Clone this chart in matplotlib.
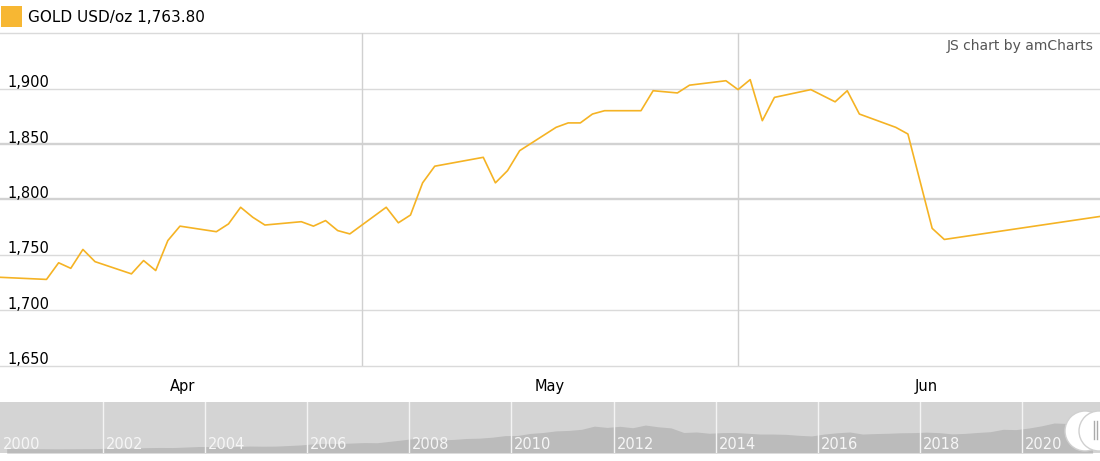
import matplotlib
matplotlib.use("Agg")
import matplotlib.pyplot as plt
import pandas as pd
from matplotlib import transforms
from matplotlib.patches import Rectangle, Ellipse

# daily gold price, USD/oz (2021)
gold_dates = ["2021-04-01", "2021-04-05", "2021-04-06", "2021-04-07", "2021-04-08", "2021-04-09",
              "2021-04-12", "2021-04-13", "2021-04-14", "2021-04-15", "2021-04-16",
              "2021-04-19", "2021-04-20", "2021-04-21", "2021-04-22", "2021-04-23",
              "2021-04-26", "2021-04-27", "2021-04-28", "2021-04-29", "2021-04-30",
              "2021-05-03", "2021-05-04", "2021-05-05", "2021-05-06", "2021-05-07",
              "2021-05-11", "2021-05-12", "2021-05-13", "2021-05-14",
              "2021-05-17", "2021-05-18", "2021-05-19", "2021-05-20", "2021-05-21",
              "2021-05-24", "2021-05-25", "2021-05-27", "2021-05-28", "2021-05-31",
              "2021-06-01", "2021-06-02", "2021-06-03", "2021-06-04",
              "2021-06-07", "2021-06-09", "2021-06-10", "2021-06-11",
              "2021-06-14", "2021-06-15", "2021-06-17", "2021-06-18", "2021-07-01"]
gold_values = [1730, 1728, 1743, 1738, 1755, 1744,
               1733, 1745, 1736, 1763, 1776,
               1771, 1778, 1793, 1784, 1777,
               1780, 1776, 1781, 1772, 1769,
               1793, 1779, 1786, 1815, 1830,
               1838, 1815, 1826, 1844,
               1865, 1869, 1869, 1877, 1880,
               1880, 1898, 1896, 1903, 1907,
               1899, 1908, 1871, 1892,
               1899, 1888, 1898, 1877,
               1865, 1859, 1774, 1764, 1785]

y_ticks = [1650, 1700, 1750, 1800, 1850, 1900]
month_labels = ["Apr", "May", "Jun"]
month_pos = ["2021-04-16 05:00", "2021-05-16 12:00", "2021-06-16 12:00"]
month_lines = ["2021-05-01", "2021-06-01"]

# scrollbar: long-term gold price, quarterly averages
hist_years = list(range(2000, 2022))
hist_prices = [
    [290, 280, 275, 272], [265, 270, 275, 278], [300, 315, 315, 340], [350, 345, 375, 410],
    [410, 395, 410, 440], [430, 435, 470, 510], [580, 610, 600, 630], [660, 650, 740, 830],
    [930, 890, 830, 860], [920, 940, 1000, 1100], [1110, 1240, 1300, 1400], [1430, 1500, 1700, 1620],
    [1690, 1600, 1770, 1660], [1590, 1300, 1330, 1250], [1290, 1300, 1250, 1200], [1200, 1180, 1120, 1080],
    [1200, 1280, 1330, 1200], [1230, 1250, 1280, 1290], [1320, 1290, 1210, 1240], [1300, 1350, 1500, 1480],
    [1580, 1720, 1900, 1870], [1780, 1800],
]
scroll_years = list(range(2000, 2021, 2))

W, H = 1100, 461
LINE = "#f5b324"


def fx(px):
    return px / W


def fy(py):
    return 1 - py / H


fig = plt.figure(figsize=(11, 4.61), dpi=100)

# main chart
ax = fig.add_axes([0, fy(366), 1, fy(33) - fy(366)])
ax.set_axis_off()
ax.set_ylim(1650, 1950)
ax.set_xlim(pd.Timestamp("2021-04-01 04:00"), pd.Timestamp("2021-06-30 20:00"))

for v in y_ticks + [1950]:
    thick = v in (1800, 1850)
    ax.axhline(v, color="#d2d2d2" if thick else "#dadada", lw=1.7 if thick else 1.0,
               zorder=1, clip_on=False)
for d in month_lines:
    ax.axvline(pd.Timestamp(d), color="#d0d0d0", lw=1.0, zorder=1)

ax.plot(pd.to_datetime(gold_dates), gold_values, color=LINE, lw=1.2, zorder=3)

lab_tr = transforms.offset_copy(transforms.blended_transform_factory(ax.transAxes, ax.transData),
                                fig=fig, x=0, y=1.5, units="dots")
for v in y_ticks:
    ax.text(fx(7), v, f"{v:,}", transform=lab_tr, ha="left", va="baseline",
            fontsize=10.5, color="#000000")

mon_tr = transforms.blended_transform_factory(ax.transData, fig.transFigure)
for lab, d in zip(month_labels, month_pos):
    ax.text(pd.Timestamp(d), fy(387), lab, transform=mon_tr, ha="center", va="center",
            fontsize=10.5, color="#000000", clip_on=False)

# legend + credit
fig.add_artist(Rectangle((fx(1), fy(27)), 21 / W, 21 / H, transform=fig.transFigure,
                         facecolor="#f7b733", edgecolor="none"))
fig.text(fx(28), fy(17), "GOLD USD/oz 1,763.80", ha="left", va="center", fontsize=11, color="#000000")
fig.text(fx(1094), fy(46), "JS chart by amCharts", ha="right", va="center", fontsize=10, color="#555555")

# scrollbar
sax = fig.add_axes([0, fy(453), 1, (453 - 402) / H])
sax.set_facecolor("#d4d4d4")
for s in sax.spines.values():
    s.set_visible(False)
sax.set_xticks([])
sax.set_yticks([])
hx, hy = [], []
for yr, qs in zip(hist_years, hist_prices):
    for q, p in enumerate(qs):
        hx.append(yr + (q + 0.5) / 4)
        hy.append(p)
sax.fill_between(hx, hy, 0, color="#bbbbbb", lw=0)
sax.set_xlim(2000 - 0.3 / 51.1, 2000 + 1099.7 / 51.1)
sax.set_ylim(0, 3230)
for yr in scroll_years:
    if yr > 2000:
        sax.axvline(yr, color="#f4f4f4", lw=1.0)
    sax.text(yr + 3 / 51.1, 0.16, str(yr), transform=transforms.blended_transform_factory(sax.transData, sax.transAxes),
             ha="left", va="center", fontsize=10.5, color="#f6f6f6")

# drag handles at the right end
for cx in (1085, 1099):
    fig.add_artist(Ellipse((fx(cx), fy(431)), 40 / W, 40 / H, transform=fig.transFigure,
                           facecolor="white", edgecolor="#d0d0d0", lw=1.0))
for lx in (1094, 1097):
    fig.add_artist(plt.Line2D([fx(lx), fx(lx)], [fy(421), fy(439)], transform=fig.transFigure,
                              color="#aaaaaa", lw=1.0))

fig.savefig("out.png", dpi=100)
